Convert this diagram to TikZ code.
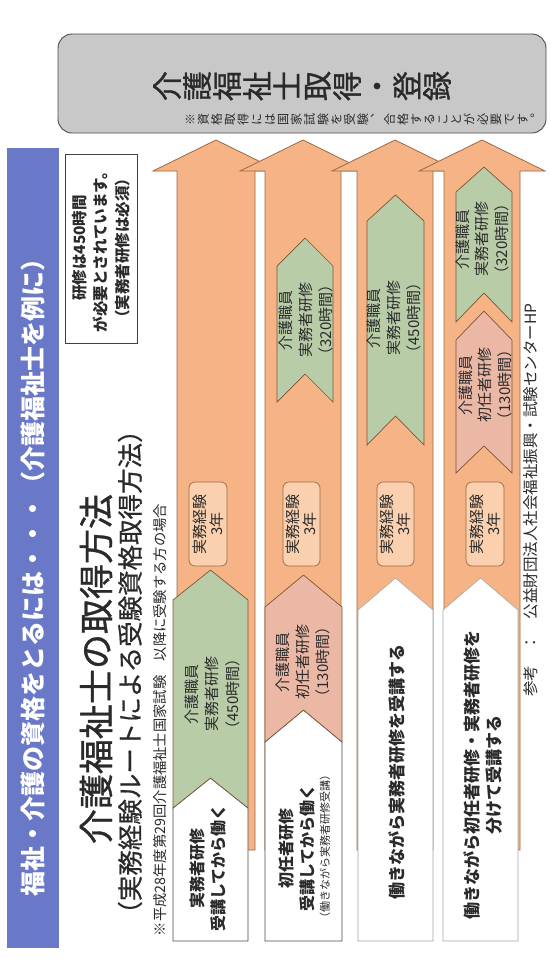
\documentclass[tikz,border=0pt]{standalone}
\usepackage{fontspec}
\setmainfont{Noto Sans CJK JP}
\newfontfamily\jpmed[FakeBold=1.0]{Noto Sans CJK JP}
\newfontfamily\jpsemi[FakeBold=0.6]{Noto Sans CJK JP}
\definecolor{orF}{HTML}{F6B486}
\definecolor{orD}{HTML}{9A6A45}
\definecolor{grF}{HTML}{B8CCA8}
\definecolor{pkF}{HTML}{EBB8A6}
\definecolor{bxF}{HTML}{FAD0AE}
\definecolor{gyF}{HTML}{C8C8C8}
\definecolor{bnB}{HTML}{6A78C8}
\definecolor{txD}{HTML}{2A2A2A}
\tikzset{
  arrowsty/.style={fill=orF,draw=orD,line width=0.8pt,line join=miter},
  greensty/.style={fill=grF,draw=orD!80!black,line width=0.7pt},
  pinksty/.style={fill=pkF,draw=orD!80!black,line width=0.7pt},
  whitesty/.style={fill=white,draw=black!70,line width=0.7pt},
  whitesoft/.style={fill=white,draw=black!35,line width=0.6pt},
  expbox/.style={fill=bxF,draw=orD,line width=0.7pt,rounded corners=6pt},
  vtxt/.style={rotate=90,inner sep=0pt,align=center,text=txD},
}
\newcommand\bigarrow[2]{%
  \filldraw[arrowsty] (#1,850) -- (#1,171) -- ({(#1+#2)/2-63},171) -- ({(#1+#2)/2},140) -- ({(#1+#2)/2+63},171) -- (#2,171) -- (#2,850) -- cycle;}
\newcommand\chevflat[6]{%
  \filldraw[#1] (#2,#6) -- (#2,#5) -- ({(#2+#3)/2},#4) -- (#3,#5) -- (#3,#6) -- cycle;}
\newcommand\chevnotch[7]{%
  \filldraw[#1] (#2,#7) -- (#2,#5) -- ({(#2+#3)/2},#4) -- (#3,#5) -- (#3,#7) -- ({(#2+#3)/2},#6) -- cycle;}
\begin{document}
\begin{tikzpicture}[x=1pt,y=-1pt]
\fill[white] (0,0) rectangle (550,962);
\useasboundingbox (0,0) rectangle (550,962);
% banner
\fill[bnB] (7,148) rectangle (59,948);
\node[vtxt,text=white,font=\fontsize{25}{25}\selectfont\bfseries] (banner) at (33,571) {福祉・介護の資格をとるには・・・（介護福祉士を例に）};
% goal box
\filldraw[fill=gyF,draw=black!70,line width=0.9pt,rounded corners=14pt] (58,34) rectangle (546,133);
\node[vtxt,font=\fontsize{30}{30}\selectfont\jpmed] (goal) at (302,86) {介\\護\\福\\祉\\士\\取\\得\\・\\登\\録};
\node[vtxt,font=\fontsize{12}{13.3}\selectfont] (goalnote) at (363,119) {※\\資\\格\\取\\得\\に\\は\\国\\家\\試\\験\\を\\受\\験\\︑\\合\\格\\す\\る\\こ\\と\\が\\必\\要\\で\\す\\︒};
% info box
\filldraw[fill=white,draw=black!75,line width=0.8pt] (65,154) rectangle (137,343);
\node[vtxt,font=\fontsize{15.5}{21.5}\selectfont\bfseries] (info) at (101,248) {研修は450時間\\が必要とされています。\\（実務者研修は必須）};
% titles
\node[vtxt,font=\fontsize{35}{35}\selectfont\jpmed] (title) at (96,669) {介護福祉士の取得方法};
\node[vtxt,font=\fontsize{25.5}{25.5}\selectfont\jpsemi] (subtitle) at (130,672) {（実務経験ルートによる受験資格取得方法）};
\node[vtxt,font=\fontsize{14.3}{14.3}\selectfont] (note) at (160,720) {※平成28年度第29回介護福祉士国家試験　以降に受験する方の場合};
% big arrows
\bigarrow{177}{255}
\bigarrow{265}{341}
\bigarrow{357}{433}
\bigarrow{444}{520}
% column 1
\chevflat{whitesty}{173}{248}{778}{808}{941}
\chevnotch{greensty}{173}{248}{570}{600}{778}{808}
\draw[expbox] (189,482) rectangle (227,566);
% column 2
\chevflat{whitesty}{265}{342}{710}{742}{941}
\chevnotch{pinksty}{265}{342}{575}{607}{710}{742}
\draw[expbox] (283,482) rectangle (320,566);
\chevnotch{greensty}{277}{333}{238}{266}{374}{402}
% column 3
\chevflat{whitesoft}{358}{433}{578}{610}{941}
\draw[expbox] (377,482) rectangle (414,566);
\chevnotch{greensty}{367}{424}{195}{221}{416}{445}
% column 4
\chevflat{whitesoft}{443}{518}{578}{610}{941}
\draw[expbox] (466,482) rectangle (504,566);
\chevnotch{pinksty}{456}{512}{311}{340}{446}{473}
\chevnotch{greensty}{456}{512}{167}{192}{293}{322}
% column texts
\node[vtxt,font=\fontsize{15}{20.5}\selectfont] (c1g) at (212,694) {介護職員\\実務者研修\\（450時間）};
\node[vtxt,font=\fontsize{16}{21}\selectfont\bfseries] (c1w) at (208,868) {実務者研修\\受講してから働く};
\node[vtxt,font=\fontsize{15}{17}\selectfont] (c1e) at (208,524) {実務経験\\3年};
\node[vtxt,font=\fontsize{15}{20}\selectfont] (c2p) at (303,662) {介護職員\\初任者研修\\（130時間）};
\node[vtxt,font=\fontsize{16}{21}\selectfont\bfseries] (c2w) at (297,848) {初任者研修\\受講してから働く};
\node[vtxt,font=\fontsize{11}{11}\selectfont] (c2ws) at (325,846) {（働きながら実務者研修受講）};
\node[vtxt,font=\fontsize{15}{17}\selectfont] (c2e) at (301.5,524) {実務経験\\3年};
\node[vtxt,font=\fontsize{15}{20}\selectfont] (c2g) at (306,320) {介護職員\\実務者研修\\（320時間）};
\node[vtxt,font=\fontsize{15}{20}\selectfont] (c3g) at (394,318) {介護職員\\実務者研修\\（450時間）};
\node[vtxt,font=\fontsize{17}{17}\selectfont\bfseries] (c3w) at (397,772) {働きながら実務者研修を受講する};
\node[vtxt,font=\fontsize{15}{17}\selectfont] (c3e) at (395.5,524) {実務経験\\3年};
\node[vtxt,font=\fontsize{15}{19.5}\selectfont] (c4g) at (482,239) {介護職員\\実務者研修\\（320時間）};
\node[vtxt,font=\fontsize{15}{19.5}\selectfont] (c4p) at (485,385) {介護職員\\初任者研修\\（130時間）};
\node[vtxt,font=\fontsize{15}{17}\selectfont] (c4e) at (485,524) {実務経験\\3年};
\node[vtxt,font=\fontsize{17}{22}\selectfont\bfseries] (c4w) at (483,775) {働きながら初任者研修・実務者研修を\\分けて受講する};
% reference
\node[vtxt,font=\fontsize{15.5}{15.5}\selectfont] (ref) at (531,500) {参考　：　公益財団法人社会福祉振興・試験センターHP};
\end{tikzpicture}
\end{document}
